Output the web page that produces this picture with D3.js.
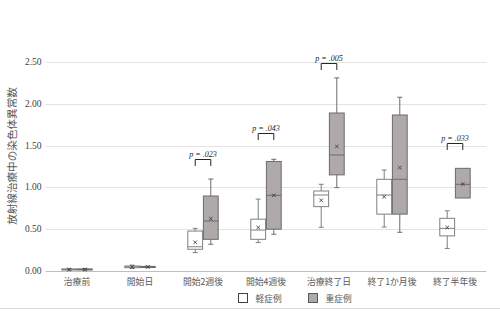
<!DOCTYPE html>
<html><head><meta charset="utf-8">
<script src="https://cdn.jsdelivr.net/npm/d3@7"></script>
<style>body{margin:0;background:#fff}</style>
</head><body><svg id="c" width="500" height="333"></svg>
<script>
const categories = ["治療前","開始日","開始2週後","開始4週後","治療終了日","終了1か月後","終了半年後"];
const groups = ["軽症例","重症例"];
// [min, q1, median, q3, max, mean]
const mild = [
  [0.01,0.012,0.018,0.025,0.03,0.018],
  [0.03,0.04,0.05,0.06,0.07,0.05],
  [0.22,0.26,0.29,0.478,0.51,0.343],
  [0.34,0.379,0.49,0.62,0.86,0.52],
  [0.523,0.77,0.909,0.957,1.037,0.845],
  [0.526,0.68,0.909,1.097,1.208,0.889],
  [0.27,0.42,0.51,0.63,0.72,0.52]
];
const severe = [
  [0.01,0.012,0.018,0.025,0.03,0.018],
  [0.04,0.042,0.048,0.055,0.058,0.048],
  [0.32,0.379,0.598,0.897,1.10,0.626],
  [0.44,0.50,0.905,1.31,1.336,0.905],
  [0.997,1.15,1.388,1.89,2.31,1.49],
  [0.463,0.68,1.097,1.866,2.078,1.236],
  [0.873,0.873,1.037,1.228,1.228,1.04]
];
const pLabels = [null,null,"p = .023","p = .043","p = .005",null,"p = .033"];
const pLevels = [null,null,1.336,1.647,2.49,null,1.535];
const yTicks = [0,0.5,1.0,1.5,2.0,2.5];

const svg = d3.select("#c");
const M = {l:45.5, r:486.5, t:62, b:271};
const x = d3.scaleBand().domain(categories).range([M.l, M.r]);
const y = d3.scaleLinear().domain([0,2.5]).range([M.b, M.t]);
const sub = d3.scaleBand().domain(groups).range([-15.2, 15.2]).paddingInner(0.05);

// gridlines
svg.append("g").selectAll("line").data(yTicks).join("line")
  .attr("x1", M.l).attr("x2", M.r)
  .attr("y1", d=>Math.round(y(d))+0.5).attr("y2", d=>Math.round(y(d))+0.5)
  .attr("stroke", d=> d===0 ? "#bfbfbf" : "#e3e3e3").attr("stroke-width",1);

// y tick labels
svg.append("g").selectAll("text").data(yTicks).join("text")
  .attr("x", 41.5).attr("y", d=>y(d)+3)
  .attr("text-anchor","end")
  .attr("font-family","'Liberation Serif', serif").attr("font-size",9.5)
  .attr("fill","#404040").text(d=>d3.format(".2f")(d));

// y title
svg.append("text")
  .attr("transform","translate(16,156) rotate(-90)")
  .attr("text-anchor","middle")
  .attr("font-family","'Noto Sans CJK JP', sans-serif").attr("font-size",10.6)
  .attr("fill","#595959").text("放射線治療中の染色体異常数");

// x labels
svg.append("g").selectAll("text").data(categories).join("text")
  .attr("x", d=>x(d)+x.bandwidth()/2).attr("y", 285)
  .attr("text-anchor","middle")
  .attr("font-family","'Noto Sans CJK JP', sans-serif").attr("font-size",8.8)
  .attr("fill","#595959").text(d=>d);

const styles = {
  "軽症例": {fill:"#ffffff", stroke:"#7f7f7f"},
  "重症例": {fill:"#aeaaaa", stroke:"#6e6a6a"}
};

function drawBox(cat, grp, s){
  const cx = x(cat) + x.bandwidth()/2 + sub(grp) + sub.bandwidth()/2;
  const w = sub.bandwidth();
  const st = styles[grp];
  const g = svg.append("g");
  const [mn,q1,md,q3,mx,mean] = s;
  // whiskers
  g.append("line").attr("x1",cx).attr("x2",cx).attr("y1",y(q3)).attr("y2",y(mx)).attr("stroke",st.stroke);
  g.append("line").attr("x1",cx).attr("x2",cx).attr("y1",y(q1)).attr("y2",y(mn)).attr("stroke",st.stroke);
  if (mx>q3) g.append("line").attr("x1",cx-2.5).attr("x2",cx+2.5).attr("y1",y(mx)).attr("y2",y(mx)).attr("stroke",st.stroke);
  if (mn<q1) g.append("line").attr("x1",cx-2.5).attr("x2",cx+2.5).attr("y1",y(mn)).attr("y2",y(mn)).attr("stroke",st.stroke);
  g.append("rect").attr("x",cx-w/2).attr("y",y(q3)).attr("width",w).attr("height",Math.max(1,y(q1)-y(q3)))
    .attr("fill",st.fill).attr("stroke",st.stroke).attr("stroke-width",1);
  g.append("line").attr("x1",cx-w/2).attr("x2",cx+w/2).attr("y1",y(md)).attr("y2",y(md)).attr("stroke",st.stroke);
  const my = y(mean), r=1.8;
  g.append("path").attr("d",`M${cx-r},${my-r}L${cx+r},${my+r}M${cx-r},${my+r}L${cx+r},${my-r}`)
    .attr("stroke","#404040").attr("stroke-width",0.9);
}
categories.forEach((c,i)=>{ drawBox(c,"軽症例",mild[i]); drawBox(c,"重症例",severe[i]); });

// significance brackets
categories.forEach((c,i)=>{
  if(!pLabels[i]) return;
  const x1 = x(c)+x.bandwidth()/2 + sub("軽症例") + sub.bandwidth()/2;
  const x2 = x(c)+x.bandwidth()/2 + sub("重症例") + sub.bandwidth()/2;
  const yt = Math.round(y(pLevels[i]))+0.5;
  svg.append("path").attr("d",`M${x1},${yt+6.5}V${yt}H${x2}V${yt+6.5}`)
    .attr("fill","none").attr("stroke","#262626").attr("stroke-width",1);
  svg.append("text").attr("x",(x1+x2)/2).attr("y",yt-3)
    .attr("text-anchor","middle").attr("font-family","'Liberation Serif', serif")
    .attr("font-style","italic").attr("font-size",8).attr("fill","#262626").text(pLabels[i]);
});

// legend
const lg = svg.append("g");
const legX = [238.5, 308.5];
groups.forEach((gname,i)=>{
  lg.append("rect").attr("x",legX[i]).attr("y",293.5).attr("width",9).attr("height",9)
    .attr("fill",styles[gname].fill).attr("stroke", i===0?"#404040":"#595959");
  lg.append("text").attr("x",legX[i]+17).attr("y",301.5)
    .attr("font-family","'Noto Sans CJK JP', sans-serif").attr("font-size",8.7)
    .attr("fill","#595959").text(gname);
});

// bottom border
svg.append("line").attr("x1",0).attr("x2",500).attr("y1",308.5).attr("y2",308.5)
  .attr("stroke","#d9d9d9").attr("stroke-width",1.2);
</script></body></html>
